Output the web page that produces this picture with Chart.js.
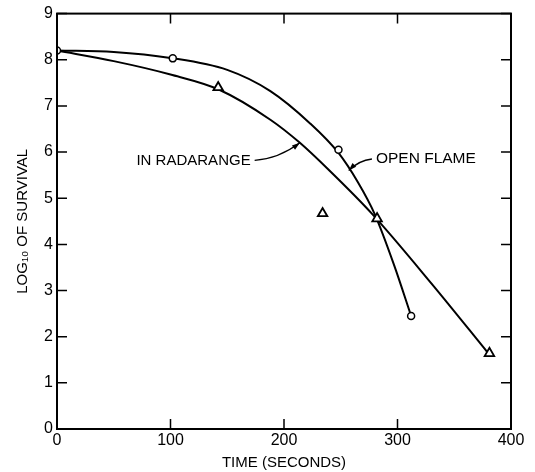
<!DOCTYPE html>
<html>
<head>
<meta charset="utf-8">
<script src="https://cdn.jsdelivr.net/npm/chart.js@4.4.1/dist/chart.umd.min.js"></script>
<style>
  html, body { margin: 0; padding: 0; background: #fff; }
  #wrap { width: 535px; height: 472px; }
</style>
</head>
<body>
<div id="wrap"><canvas id="survivalChart" width="535" height="472"></canvas></div>
<script>
// measured points
const flameTimes = [0, 102, 248, 312];
const flameLogs = [8.2, 8.03, 6.05, 2.45];
const radarTimes = [142, 234, 282, 381];
const radarLogs = [7.4, 4.67, 4.56, 1.64];

// fitted curves
const flameCurveTimes = [0, 50, 100, 150, 188, 223, 248, 265, 280, 297, 312];
const flameCurveLogs = [8.2, 8.17, 8.04, 7.78, 7.32, 6.62, 5.98, 5.35, 4.65, 3.55, 2.45];
const radarCurveTimes = [0, 50, 100, 143, 188, 214, 240, 278, 330, 380];
const radarCurveLogs = [8.2, 7.97, 7.68, 7.35, 6.7, 6.2, 5.6, 4.65, 3.15, 1.64];

// axes
const timeTicks = [0, 100, 200, 300, 400];
const logTicks = [0, 1, 2, 3, 4, 5, 6, 7, 8, 9];

const FONT = "'Liberation Sans', Arial, sans-serif";

function toPoints(xs, ys) {
  return xs.map((x, i) => ({ x: x, y: ys[i] }));
}

// frame, inward ticks on all four sides, and the two callouts
const framePlugin = {
  id: "frame",
  afterDatasetsDraw(chart) {
    const ctx = chart.ctx;
    const a = chart.chartArea;
    const xs = chart.scales.x;
    const ys = chart.scales.y;
    const tick = 10;

    ctx.save();
    ctx.strokeStyle = "#000";
    ctx.lineWidth = 2;
    ctx.strokeRect(a.left, a.top, a.right - a.left, a.bottom - a.top);

    ctx.lineWidth = 1.5;
    ctx.beginPath();
    timeTicks.forEach(t => {
      const px = xs.getPixelForValue(t);
      ctx.moveTo(px, a.bottom); ctx.lineTo(px, a.bottom - tick);
      ctx.moveTo(px, a.top); ctx.lineTo(px, a.top + tick);
    });
    logTicks.forEach(v => {
      const py = ys.getPixelForValue(v);
      ctx.moveTo(a.left, py); ctx.lineTo(a.left + tick, py);
      ctx.moveTo(a.right, py); ctx.lineTo(a.right - tick, py);
    });
    ctx.stroke();

    // labels
    ctx.fillStyle = "#000";
    ctx.font = "15px " + FONT;
    ctx.textBaseline = "middle";
    ctx.textAlign = "left";

    const rx = xs.getPixelForValue(70), ry = ys.getPixelForValue(5.82);
    ctx.fillText("IN RADARANGE", rx, ry);
    const rw = ctx.measureText("IN RADARANGE").width;
    drawLeader(ctx, rx + rw + 4, ry,
      xs.getPixelForValue(195), ys.getPixelForValue(5.85),
      xs.getPixelForValue(214), ys.getPixelForValue(6.2));

    ctx.font = "15.5px " + FONT;
    const ox = xs.getPixelForValue(281), oy = ys.getPixelForValue(5.85);
    ctx.fillText("OPEN FLAME", ox, oy);
    drawLeader(ctx, ox - 4, oy,
      xs.getPixelForValue(266), ys.getPixelForValue(5.82),
      xs.getPixelForValue(257), ys.getPixelForValue(5.6));
    ctx.restore();
  }
};

function drawLeader(ctx, x0, y0, cx, cy, x1, y1) {
  ctx.lineWidth = 1.3;
  ctx.beginPath();
  ctx.moveTo(x0, y0);
  ctx.quadraticCurveTo(cx, cy, x1, y1);
  ctx.stroke();
  const ang = Math.atan2(y1 - cy, x1 - cx);
  const len = 8, wid = 2.6;
  ctx.beginPath();
  ctx.moveTo(x1, y1);
  ctx.lineTo(x1 - len * Math.cos(ang) + wid * Math.sin(ang), y1 - len * Math.sin(ang) - wid * Math.cos(ang));
  ctx.lineTo(x1 - len * Math.cos(ang) - wid * Math.sin(ang), y1 - len * Math.sin(ang) + wid * Math.cos(ang));
  ctx.closePath();
  ctx.fill();
}

const ctx = document.getElementById("survivalChart").getContext("2d");
const survivalChart = new Chart(ctx, {
  type: "scatter",
  data: {
    datasets: [
      {
        label: "Open flame curve",
        data: toPoints(flameCurveTimes, flameCurveLogs),
        showLine: true,
        borderColor: "#000",
        borderWidth: 2,
        pointRadius: 0,
        cubicInterpolationMode: "monotone",
        order: 3
      },
      {
        label: "Radarange curve",
        data: toPoints(radarCurveTimes, radarCurveLogs),
        showLine: true,
        borderColor: "#000",
        borderWidth: 2,
        pointRadius: 0,
        cubicInterpolationMode: "monotone",
        order: 3
      },
      {
        label: "Open flame",
        data: toPoints(flameTimes, flameLogs),
        pointStyle: "circle",
        pointRadius: 3.5,
        pointBorderWidth: 1.5,
        pointBackgroundColor: "#fff",
        pointBorderColor: "#000",
        order: 1
      },
      {
        label: "In Radarange",
        data: toPoints(radarTimes, radarLogs),
        pointStyle: "triangle",
        pointRadius: 5.5,
        pointBorderWidth: 1.8,
        pointBackgroundColor: "#fff",
        pointBorderColor: "#000",
        order: 1
      }
    ]
  },
  options: {
    responsive: false,
    animation: false,
    devicePixelRatio: 1,
    layout: { padding: { top: 12, right: 24, left: 0, bottom: 0 } },
    plugins: {
      legend: { display: false },
      tooltip: { enabled: false }
    },
    scales: {
      x: {
        type: "linear",
        min: 0,
        max: 400,
        afterBuildTicks: s => { s.ticks = timeTicks.map(v => ({ value: v })); },
        afterFit: s => { s.height = 43; },
        ticks: { color: "#000", font: { family: FONT, size: 16 }, padding: 2, maxRotation: 0 },
        grid: { display: true, drawOnChartArea: false, drawTicks: false, color: "#000" },
        border: { display: true, color: "#000", width: 2 },
        title: {
          display: true,
          text: "TIME (SECONDS)",
          color: "#000",
          font: { family: FONT, size: 15 },
          padding: { top: 0, bottom: 0 }
        }
      },
      y: {
        type: "linear",
        min: 0,
        max: 9,
        afterBuildTicks: s => { s.ticks = logTicks.map(v => ({ value: v })); },
        afterFit: s => { s.width = 57; },
        ticks: { color: "#000", font: { family: FONT, size: 16 }, padding: 4 },
        grid: { display: true, drawOnChartArea: false, drawTicks: false, color: "#000" },
        border: { display: true, color: "#000", width: 2 },
        title: {
          display: true,
          text: "LOG\u2081\u2080 OF SURVIVAL",
          color: "#000",
          font: { family: FONT, size: 15 },
          padding: { top: 14, bottom: 0 }
        }
      }
    }
  },
  plugins: [framePlugin]
});
</script>
</body>
</html>
